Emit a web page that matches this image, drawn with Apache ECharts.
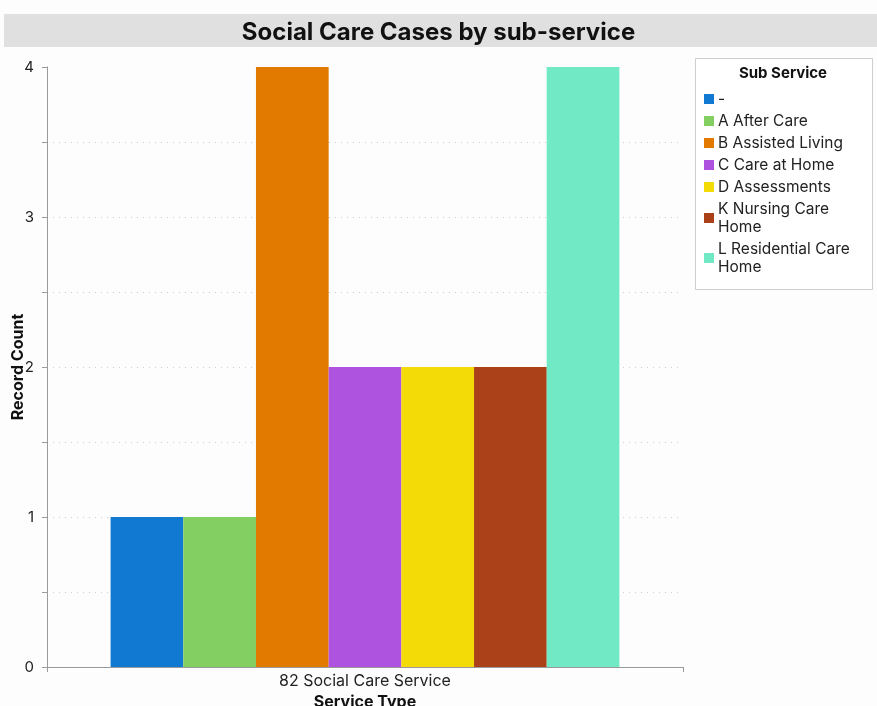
<!DOCTYPE html>
<html>
<head>
<meta charset="utf-8">
<script src="https://cdn.jsdelivr.net/npm/echarts@6/dist/echarts.min.js"></script>
<style>
  html, body { margin: 0; padding: 0; background: #fdfdfd; overflow: hidden; }
  #chart { width: 877px; height: 706px; }
</style>
</head>
<body>
<div id="chart"></div>
<script>
// Record counts per sub-service for the single service type
const categories = ['82 Social Care Service'];
const subServices = [
  '-',
  'A After Care',
  'B Assisted Living',
  'C Care at Home',
  'D Assessments',
  'K Nursing Care Home',
  'L Residential Care Home'
];
const recordCounts = [1, 1, 4, 2, 2, 2, 4];
const seriesColors = ['#1279d3', '#83cf62', '#e27a00', '#ae52e0', '#f2db06', '#aa4118', '#70e9c4'];
const yTicks = [0, 1, 2, 3, 4];

// Legend labels wrapped onto two lines where the name is long
const legendWrap = {
  'K Nursing Care Home': 'K Nursing Care\nHome',
  'L Residential Care Home': 'L Residential Care\nHome'
};

const FONT = 'Inter, Liberation Sans, Arial, sans-serif';
const chart = echarts.init(document.getElementById('chart'), null, { renderer: 'canvas', width: 877, height: 706 });

const series = subServices.map((name, i) => ({
  name: name,
  type: 'bar',
  data: [recordCounts[i]],
  itemStyle: { color: seriesColors[i] },
  barGap: '0%',
  barCategoryGap: '20%'
}));

chart.setOption({
  backgroundColor: '#fdfdfd',
  animation: false,
  title: {
    text: 'Social Care Cases by sub-service',
    left: 'center',
    top: 16,
    textStyle: { fontFamily: FONT, fontSize: 24, fontWeight: 'bold', color: '#111' }
  },
  graphic: [
    {
      type: 'rect', z: -1,
      shape: { x: 4, y: 14, width: 873, height: 33 },
      style: { fill: '#e0e0e0' }
    },
    {
      type: 'rect', z: 0,
      shape: { x: 695.5, y: 58.5, width: 177, height: 231 },
      style: { fill: '#ffffff', stroke: '#cfcfcf', lineWidth: 1 }
    },
    {
      type: 'text', z: 1,
      x: 783, y: 73,
      style: {
        text: 'Sub Service', fontFamily: FONT, fontSize: 15, fontWeight: 'bold',
        fill: '#111', align: 'center', verticalAlign: 'middle'
      }
    }
  ],
  legend: {
    orient: 'vertical',
    left: 704,
    top: 90,
    padding: 0,
    itemGap: 4,
    itemWidth: 10,
    itemHeight: 10,
    itemStyle: { borderWidth: 0 },
    icon: 'rect',
    data: subServices,
    formatter: (name) => legendWrap[name] || name,
    textStyle: { fontFamily: FONT, fontSize: 15.5, lineHeight: 18, color: '#222', padding: [0, 0, 0, -1] }
  },
  grid: { left: 47, top: 67, width: 636, height: 600, containLabel: false, outerBoundsMode: 'none' },
  xAxis: {
    type: 'category',
    data: categories,
    name: 'Service Type',
    nameLocation: 'middle',
    nameGap: 27,
    nameMoveOverlap: false,
    nameTextStyle: { fontFamily: FONT, fontSize: 16, fontWeight: 'bold', color: '#111' },
    axisLine: { lineStyle: { color: '#9a9a9a', width: 1 } },
    axisTick: { show: true, length: 5, lineStyle: { color: '#9a9a9a' } },
    axisLabel: { fontFamily: FONT, fontSize: 16, color: '#222', margin: 6 }
  },
  yAxis: {
    type: 'value',
    min: 0,
    max: 4,
    interval: 0.5,
    name: 'Record Count',
    nameLocation: 'middle',
    nameGap: 21,
    nameMoveOverlap: false,
    nameRotate: 90,
    nameTextStyle: { fontFamily: FONT, fontSize: 16, fontWeight: 'bold', color: '#111' },
    axisLine: { show: true, lineStyle: { color: '#9a9a9a', width: 1 } },
    axisTick: { show: true, length: 5, lineStyle: { color: '#9a9a9a' } },
    axisLabel: {
      fontFamily: FONT, fontSize: 15, color: '#222', margin: 13,
      formatter: (v) => (yTicks.indexOf(v) >= 0 ? String(v) : '')
    },
    splitLine: {
      show: true,
      showMinLine: false,
      showMaxLine: false,
      lineStyle: { color: '#cccccc', type: [1, 5], width: 1 }
    }
  },
  series: series
});
</script>
</body>
</html>
